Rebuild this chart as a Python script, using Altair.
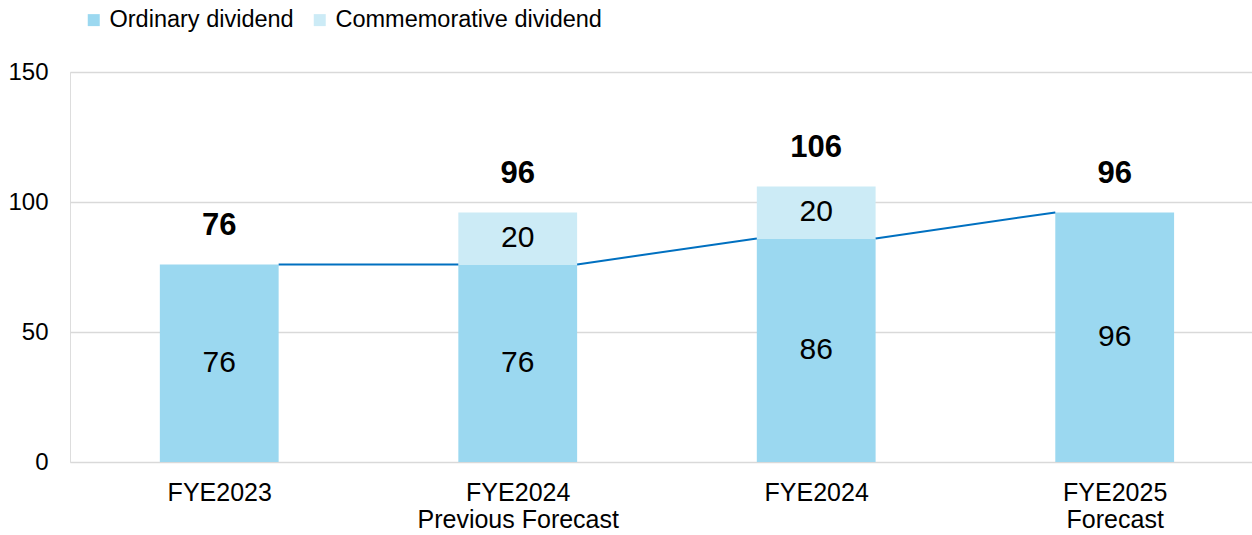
import json
import altair as alt
import pandas as pd

CATEGORIES = ["FYE2023", "FYE2024\nPrevious Forecast", "FYE2024", "FYE2025\nForecast"]
ORDINARY = [76, 76, 86, 96]
COMMEMORATIVE = [0, 20, 20, 0]
SERIES = ["Ordinary dividend", "Commemorative dividend"]
COLORS = ["#9BD8F0", "#CCEBF6"]
Y_TICKS = [0, 50, 100, 150]

FONT = "Liberation Sans"
HALF = 0.199

rows = []
for i, (o, c) in enumerate(zip(ORDINARY, COMMEMORATIVE)):
    rows.append({"idx": i, "series": SERIES[0], "start": 0, "end": o, "val": o})
    rows.append({"idx": i, "series": SERIES[1], "start": o, "end": o + c, "val": c})
bars_df = pd.DataFrame(rows)

tot_df = pd.DataFrame({"idx": list(range(len(ORDINARY))),
                       "total": [o + c for o, c in zip(ORDINARY, COMMEMORATIVE)]})

lines_df = pd.DataFrame([{"idx": i, "y": ORDINARY[i], "y2": ORDINARY[i + 1]}
                         for i in range(len(ORDINARY) - 1)])

xscale = alt.Scale(domain=[-0.5, 3.46], nice=False, zero=False)
yscale = alt.Scale(domain=[0, 150], nice=False)

label_expr = "split(" + json.dumps(CATEGORIES) + "[datum.value], '\\n')"

base = alt.Chart(bars_df).transform_filter("datum.val > 0").transform_calculate(
    x1=f"datum.idx - {HALF}", x2=f"datum.idx + {HALF}", mid="(datum.start + datum.end) / 2"
)

bars = base.mark_bar(stroke=None).encode(
    x=alt.X("x1:Q", scale=xscale,
            axis=alt.Axis(values=[0, 1, 2, 3], labelExpr=label_expr, title=None,
                          grid=False, ticks=False, domain=False, labelFont=FONT,
                          labelFontSize=25, labelColor="#000000", labelPadding=18,
                          labelLineHeight=27, labelBaseline="top", labelLimit=0)),
    x2="x2:Q",
    y=alt.Y("start:Q", scale=yscale,
            axis=alt.Axis(values=Y_TICKS, title=None, ticks=False, domain=False,
                          gridColor="#D9D9D9", gridWidth=1.5, labelFont=FONT,
                          labelFontSize=24, labelColor="#000000", labelPadding=22,
                          labelLimit=0)),
    y2="end:Q",
    color=alt.Color("series:N", scale=alt.Scale(domain=SERIES, range=COLORS),
                    legend=alt.Legend(title=None, orient="none", legendX=12, legendY=-64,
                                      direction="horizontal", symbolType="square",
                                      symbolSize=144, symbolStrokeWidth=0,
                                      labelFont=FONT, labelFontSize=23.5,
                                      labelColor="#000000", labelOffset=4,
                                      labelLimit=0, columnPadding=14)),
)

inner = base.mark_text(font=FONT, fontSize=30, color="#000000", baseline="middle").encode(
    x=alt.X("idx:Q", scale=xscale),
    y=alt.Y("mid:Q", scale=yscale),
    text="val:Q",
)

lines = alt.Chart(lines_df).transform_calculate(
    xa=f"datum.idx + {HALF}", xb=f"datum.idx + 1 - {HALF}"
).mark_rule(color="#0070C0", strokeWidth=2).encode(
    x=alt.X("xa:Q", scale=xscale), x2="xb:Q",
    y=alt.Y("y:Q", scale=yscale), y2="y2:Q",
)

totals = alt.Chart(tot_df).mark_text(font=FONT, fontSize=31, fontWeight="bold",
                                     color="#000000", baseline="bottom", dy=-22).encode(
    x=alt.X("idx:Q", scale=xscale),
    y=alt.Y("total:Q", scale=yscale),
    text="total:Q",
)

chart = alt.layer(bars, lines, inner, totals).properties(
    width=1182, height=390,
    autosize=alt.AutoSizeParams(type="none"),
    padding={"left": 70, "top": 72, "right": 0, "bottom": 73},
).configure_view(stroke=None).configure(background="#FFFFFF")

chart.save("out.html", embed_options={"renderer": "svg", "actions": False})
